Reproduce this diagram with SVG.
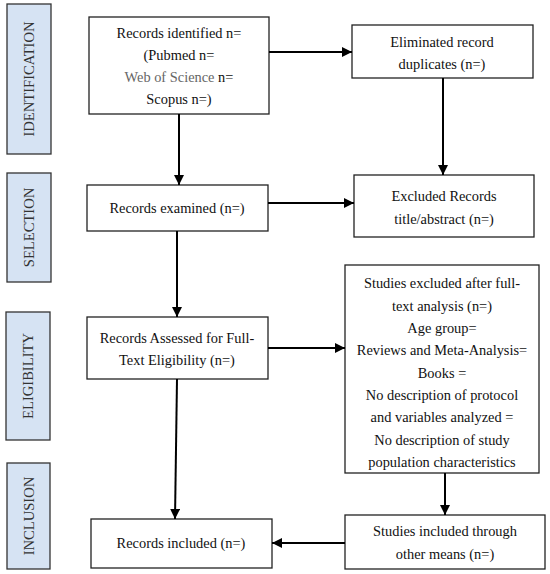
<svg xmlns="http://www.w3.org/2000/svg" width="550" height="574" viewBox="0 0 550 574">
<style>
.box{fill:#fff;stroke:#222;stroke-width:1.3}
.side{fill:#d6e3f3;stroke:#333;stroke-width:1.3}
.t{font-family:"Liberation Serif","DejaVu Serif",serif;font-size:14.4px;fill:#111;text-anchor:middle}
.st{font-family:"Liberation Serif","DejaVu Serif",serif;font-size:14.6px;fill:#333;text-anchor:middle}
.ln{stroke:#000;stroke-width:2;fill:none;marker-end:url(#ah)}
</style>
<defs>
<marker id="ah" viewBox="0 0 10 10" refX="10" refY="5" markerWidth="5" markerHeight="5" orient="auto" markerUnits="strokeWidth">
<path d="M0,0 L10,5 L0,10 z" fill="#000"/>
</marker>
</defs>
<g id="side-identification"><rect class="side" x="7" y="4" width="44" height="150"/><text class="st" transform="translate(34,79) rotate(-90)">IDENTIFICATION</text></g>
<g id="side-selection"><rect class="side" x="7" y="173" width="44" height="109"/><text class="st" transform="translate(34,227.5) rotate(-90)">SELECTION</text></g>
<g id="side-eligibility"><rect class="side" x="6" y="312" width="44" height="128"/><text class="st" transform="translate(33,376) rotate(-90)">ELIGIBILITY</text></g>
<g id="side-inclusion"><rect class="side" x="7" y="463" width="43" height="106"/><text class="st" transform="translate(33.5,516) rotate(-90)">INCLUSION</text></g>

<g id="identified"><rect class="box" x="89" y="17" width="180" height="97"/>
<text class="t" x="179" y="38">Records identified n=</text>
<text class="t" x="179" y="60">(Pubmed n=</text>
<text class="t" x="179" y="82"><tspan fill="#666">Web of Science</tspan> n=</text>
<text class="t" x="179" y="104">Scopus n=)</text></g>
<g id="eliminated"><rect class="box" x="352" y="25" width="181" height="53"/>
<text class="t" x="442" y="47">Eliminated record</text>
<text class="t" x="442" y="69">duplicates (n=)</text></g>
<g id="examined"><rect class="box" x="87" y="185" width="181" height="46"/>
<text class="t" x="177" y="213">Records examined (n=)</text></g>
<g id="excluded"><rect class="box" x="354" y="175" width="180" height="62"/>
<text class="t" x="444" y="201">Excluded Records</text>
<text class="t" x="444" y="224">title/abstract (n=)</text></g>
<g id="assessed"><rect class="box" x="87" y="317" width="181" height="62"/>
<text class="t" x="177" y="343">Records Assessed for Full-</text>
<text class="t" x="177" y="365">Text Eligibility (n=)</text></g>
<g id="studies-excluded"><rect class="box" x="345" y="265" width="194" height="208"/>
<text class="t" x="442" y="288">Studies excluded after full-</text>
<text class="t" x="442" y="310.5">text analysis (n=)</text>
<text class="t" x="442" y="333">Age group=</text>
<text class="t" x="442" y="355">Reviews and Meta-Analysis=</text>
<text class="t" x="442" y="377.5">Books =</text>
<text class="t" x="442" y="400">No description of protocol</text>
<text class="t" x="442" y="422">and variables analyzed =</text>
<text class="t" x="442" y="444.5">No description of study</text>
<text class="t" x="442" y="466.5">population characteristics</text></g>
<g id="included"><rect class="box" x="91" y="519" width="181" height="49"/>
<text class="t" x="181" y="548">Records included (n=)</text></g>
<g id="studies-included"><rect class="box" x="345" y="515" width="200" height="54"/>
<text class="t" x="445" y="536">Studies included through</text>
<text class="t" x="445" y="559">other means (n=)</text></g>

<g id="connectors">
<line class="ln" x1="269" y1="52" x2="352" y2="52"/>
<line class="ln" x1="179" y1="114" x2="179" y2="185"/>
<line class="ln" x1="443" y1="78" x2="443" y2="175"/>
<line class="ln" x1="268" y1="203" x2="354" y2="203"/>
<line class="ln" x1="177" y1="231" x2="177" y2="317"/>
<line class="ln" x1="268" y1="348" x2="345" y2="348"/>
<line class="ln" x1="177" y1="379" x2="175" y2="519"/>
<line class="ln" x1="445" y1="473" x2="445" y2="515"/>
<line class="ln" x1="345" y1="543" x2="272" y2="543"/>
</g>
</svg>
